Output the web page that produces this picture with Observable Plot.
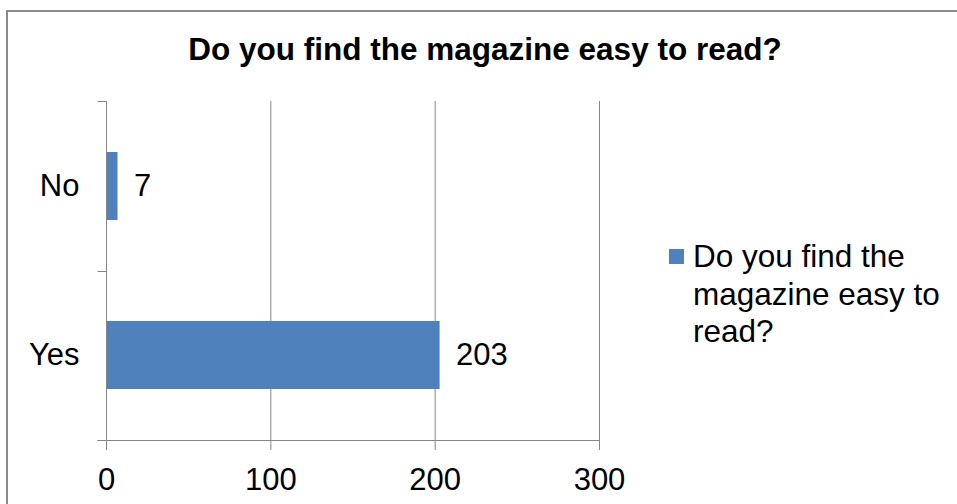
<!DOCTYPE html>
<html><head><meta charset="utf-8">
<script src="https://cdn.jsdelivr.net/npm/d3@7"></script>
<script src="https://cdn.jsdelivr.net/npm/@observablehq/plot@0.6"></script>
<style>html,body{margin:0;padding:0;background:#fff;overflow:hidden}</style>
</head><body><div id="chart"></div>
<script>
const title = "Do you find the magazine easy to read?";
const categories = ["No", "Yes"];
const values = [7, 203];
const xTicks = [0, 100, 200, 300];
const seriesLabelLines = ["Do you find the", "magazine easy to", "read?"];

const data = categories.map((c, i) => ({answer: c, count: values[i]}));
const FONT = '"Liberation Sans", Arial, sans-serif';
const GRID = "#868686";
const BAR = "#4F81BD";

const plot = Plot.plot({
  width: 957, height: 504,
  marginLeft: 106, marginRight: 358, marginTop: 101, marginBottom: 64,
  style: {fontFamily: FONT, fontSize: "31px", color: "#000", background: "#fff", overflow: "visible"},
  x: {domain: [0, 300], ticks: xTicks},
  y: {domain: categories, type: "band", paddingInner: 0.6, paddingOuter: 0.3},
  marks: [
    Plot.ruleX(xTicks.slice(1), {stroke: GRID, strokeWidth: 1}),
    Plot.barX(data, {x: "count", y: "answer", fill: BAR}),
    Plot.ruleX([0], {stroke: GRID, strokeWidth: 1}),
    Plot.text(data, {x: "count", y: "answer", text: d => String(d.count), textAnchor: "start", dx: 16, fill: "#000", fontSize: 31}),
    Plot.axisX({ticks: xTicks, tickSize: 10, tickPadding: 17, stroke: GRID, fill: "#000", label: null, fontSize: 31}),
    Plot.axisY({tickSize: 0, tickPadding: 27, fill: "#000", label: null, fontSize: 31})
  ]
});
document.getElementById("chart").appendChild(plot);

const svg = d3.select(plot);
const xs = plot.scale("x"), ys = plot.scale("y");
const x = d3.scaleLinear(xs.domain, xs.range);
const band = d3.scaleBand(ys.domain, ys.range).paddingInner(ys.paddingInner).paddingOuter(ys.paddingOuter).align(ys.align ?? 0.5);
const half = (band.step() - band.bandwidth()) / 2;
const bounds = categories.map(c => band(c) - half);
bounds.push(band(categories[categories.length - 1]) + band.bandwidth() + half);
const x0 = Math.round(x(0)) + 0.5;
const g = svg.append("g").attr("stroke", GRID).attr("stroke-width", 1);
bounds.forEach(b => {
  const yy = Math.round(b) + 0.5;
  g.append("line").attr("x1", x0 - 9).attr("x2", x0).attr("y1", yy).attr("y2", yy);
});
const yAxis = Math.round(bounds[bounds.length - 1]) + 0.5;
g.append("line").attr("x1", x0 - 9).attr("x2", x(300)).attr("y1", yAxis).attr("y2", yAxis);

// chart border (left and top visible)
svg.append("path").attr("d", "M7,504V11H957").attr("fill", "none").attr("stroke", "#8a8a8a").attr("stroke-width", 2);

// title
svg.append("text").attr("x", 485).attr("y", 60).attr("text-anchor", "middle")
  .attr("font-family", FONT).attr("font-size", 31.5).attr("font-weight", "bold").attr("fill", "#000").text(title);

// legend
svg.append("rect").attr("x", 669).attr("y", 249).attr("width", 15).attr("height", 15).attr("fill", BAR);
const lt = svg.append("text").attr("font-family", FONT).attr("font-size", 31.5).attr("fill", "#000").attr("text-anchor", "start");
seriesLabelLines.forEach((s, i) => lt.append("tspan").attr("x", 693).attr("y", 267 + i * 37.5).text(s));
</script>
</body></html>
